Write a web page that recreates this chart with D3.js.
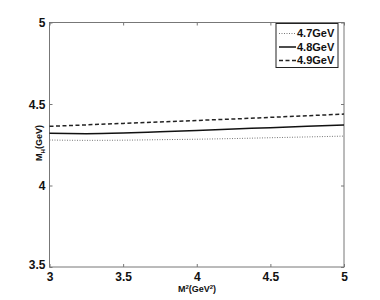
<!DOCTYPE html>
<html><head><meta charset="utf-8">
<script src="https://cdn.jsdelivr.net/npm/d3@7"></script>
<style>body{margin:0;background:#fff}text{font-family:"Liberation Sans",Arial,sans-serif;font-weight:bold}</style>
</head><body><svg id="c" width="380" height="300"></svg>
<script>
const xVals = [3, 3.25, 3.5, 3.75, 4, 4.25, 4.5, 4.75, 5];
const s47 = [4.279, 4.277, 4.278, 4.281, 4.284, 4.288, 4.293, 4.298, 4.303];
const s48 = [4.320, 4.318, 4.322, 4.330, 4.338, 4.347, 4.355, 4.363, 4.371];
const s49 = [4.363, 4.372, 4.381, 4.390, 4.399, 4.408, 4.418, 4.428, 4.438];
const seriesNames = ["4.7GeV", "4.8GeV", "4.9GeV"];
const xTicks = [3, 3.5, 4, 4.5, 5];
const yTicks = [3.5, 4, 4.5, 5];

const svg = d3.select("#c");
const L = 49.5, R = 344, T = 22.5, B = 267;
const x = d3.scaleLinear().domain([3, 5]).range([L, R]);
const y = d3.scaleLinear().domain([3.5, 5]).range([B, T]);
const axisCol = "#777";

svg.append("rect").attr("x", L).attr("y", T).attr("width", R - L).attr("height", B - T)
  .attr("fill", "none").attr("stroke", axisCol).attr("stroke-width", 1);

const gb = svg.append("g").attr("transform", `translate(0,${B})`)
  .call(d3.axisBottom(x).tickValues(xTicks).tickSize(-3).tickPadding(5).tickFormat(d3.format("")));
const gt = svg.append("g").attr("transform", `translate(0,${T})`)
  .call(d3.axisTop(x).tickValues(xTicks).tickSize(-3).tickFormat(""));
const gl = svg.append("g").attr("transform", `translate(${L},0)`)
  .call(d3.axisLeft(y).tickValues(yTicks).tickSize(-3).tickPadding(4).tickFormat(d3.format("")));
const gr = svg.append("g").attr("transform", `translate(${R},0)`)
  .call(d3.axisRight(y).tickValues(yTicks).tickSize(-3).tickFormat(""));
[gb, gt, gl, gr].forEach(g => {
  g.select(".domain").remove();
  g.selectAll(".tick line").attr("stroke", axisCol);
  g.selectAll("text").attr("fill", "#111").style("font-size", "12px").style("font-weight", "bold");
});
gb.selectAll("text").attr("dy", "0.75em");
gl.selectAll("text").attr("dy", "0.35em");
gl.selectAll(".tick").filter(d => d === 3.5).select("text").attr("dy", "0.1em");

const styles = [
  {data: s47, dash: "1,1.5", w: 1, col: "#777"},
  {data: s48, dash: null, w: 1.5, col: "#111"},
  {data: s49, dash: "4,2.5", w: 1.5, col: "#222"}
];
const line = d3.line().x((d, i) => x(xVals[i])).y(d => y(d)).curve(d3.curveMonotoneX);
styles.forEach(s => {
  svg.append("path").datum(s.data).attr("d", line).attr("fill", "none")
    .attr("stroke", s.col).attr("stroke-width", s.w).attr("stroke-dasharray", s.dash);
});

const lg = svg.append("g");
lg.append("rect").attr("x", 276).attr("y", 23.5).attr("width", 62).attr("height", 44)
  .attr("fill", "#fff").attr("stroke", "#222").attr("stroke-width", 1);
seriesNames.forEach((n, i) => {
  const yy = 33.5 + i * 13.5;
  lg.append("line").attr("x1", 279).attr("x2", 296).attr("y1", yy).attr("y2", yy)
    .attr("stroke", styles[i].col).attr("stroke-width", styles[i].w).attr("stroke-dasharray", styles[i].dash);
  lg.append("text").attr("x", 297).attr("y", yy).attr("dy", "0.35em")
    .style("font-size", "11px").attr("fill", "#111").text(n);
});

const xl = svg.append("text").attr("x", 197).attr("y", 292).attr("text-anchor", "middle")
  .style("font-size", "9px").attr("fill", "#111");
xl.append("tspan").text("M");
xl.append("tspan").attr("dy", "-3").style("font-size", "6px").text("2");
xl.append("tspan").attr("dy", "3").text("(GeV");
xl.append("tspan").attr("dy", "-3").style("font-size", "6px").text("2");
xl.append("tspan").attr("dy", "3").text(")");

const yl = svg.append("text").attr("transform", "translate(42,143) rotate(-90)")
  .attr("text-anchor", "middle").style("font-size", "9px").attr("fill", "#111");
yl.append("tspan").text("M");
yl.append("tspan").attr("dy", "3").style("font-size", "6px").text("H");
yl.append("tspan").attr("dy", "-3").text("(GeV)");
</script></body></html>
